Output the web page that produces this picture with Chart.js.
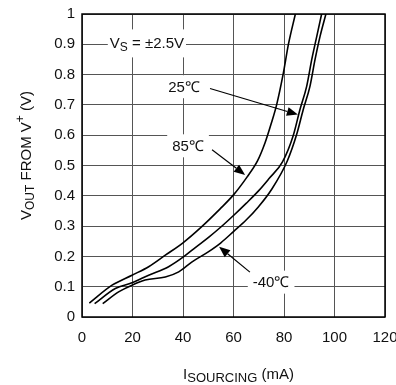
<!DOCTYPE html>
<html lang="en">
<head>
<meta charset="UTF-8">
<title>VOUT from V+ vs ISOURCING</title>
<script src="https://cdn.jsdelivr.net/npm/chart.js"></script>
<style>
  body { margin: 0; background: #fff; }
  #wrap { width: 396px; height: 385px; }
</style>
</head>
<body>
<div id="wrap"><canvas id="chart" width="396" height="385"></canvas></div>
<script>
  // curves: current in mA, voltage in V
  const iHot = [2.9, 11.9, 19.8, 26.4, 33, 40, 47, 54.7, 60, 65.2, 69.5, 72.5, 75, 77.1, 79.7, 81.8, 84.5];
  const vHot = [0.046, 0.105, 0.138, 0.166, 0.204, 0.245, 0.295, 0.357, 0.403, 0.46, 0.515, 0.575, 0.64, 0.701, 0.803, 0.902, 1.0];

  const iRoom = [5, 13.2, 19.8, 26.4, 34.3, 40.3, 45, 50, 55, 60, 65, 70, 74, 79.4, 83.7, 86.3, 89, 91, 93, 94.9];
  const vRoom = [0.044, 0.094, 0.113, 0.138, 0.166, 0.199, 0.23, 0.262, 0.297, 0.335, 0.375, 0.417, 0.456, 0.512, 0.6, 0.684, 0.762, 0.85, 0.927, 1.0];

  const iCold = [8.2, 14.5, 19.8, 25, 33, 38.3, 43.6, 50, 55, 60, 65, 70, 75, 81.3, 85, 87.6, 90.3, 92.3, 94.3, 96.6];
  const vCold = [0.044, 0.083, 0.105, 0.122, 0.132, 0.149, 0.182, 0.215, 0.245, 0.282, 0.32, 0.365, 0.42, 0.515, 0.602, 0.684, 0.762, 0.85, 0.927, 1.0];

  const xTicks = [0, 20, 40, 60, 80, 100, 120];
  const yTicks = [0, 0.1, 0.2, 0.3, 0.4, 0.5, 0.6, 0.7, 0.8, 0.9, 1];
  const yTickLabels = ['0', '0.1', '0.2', '0.3', '0.4', '0.5', '0.6', '0.7', '0.8', '0.9', '1'];

  const FONT = '"Liberation Sans", Arial, sans-serif';

  // labels placed in data units: [text, size, baseline shift]
  const notes = [
    { parts: [['V', 15, 0], ['S', 12, 3], [' = \u00b12.5V', 15, 0]], at: [25.7, 0.903], h: 28, pad: 2 },
    { parts: [['25\u2103', 15, 0]], at: [40.4, 0.76], h: 23, pad: 5 },
    { parts: [['85\u2103', 15, 0]], at: [42, 0.565], h: 23, pad: 5 },
    { parts: [['-40\u2103', 15, 0]], at: [74.9, 0.115], h: 23, pad: 5 }
  ];
  const arrows = [
    { from: [50.7, 0.754], to: [85.5, 0.668] },
    { from: [51.5, 0.552], to: [64.6, 0.469] },
    { from: [66.5, 0.148], to: [54.3, 0.232] }
  ];

  function toPts(xs, ys) {
    return xs.map((x, i) => ({ x: x, y: ys[i] }));
  }

  function partsWidth(ctx, parts) {
    let w = 0;
    parts.forEach(p => { ctx.font = p[1] + 'px ' + FONT; w += ctx.measureText(p[0]).width; });
    return w;
  }

  // draws mixed-size text starting at x along the baseline y
  function drawParts(ctx, parts, x, y) {
    parts.forEach(p => {
      ctx.font = p[1] + 'px ' + FONT;
      ctx.fillText(p[0], x, y + p[2]);
      x += ctx.measureText(p[0]).width;
    });
  }

  const extras = {
    id: 'extras',
    beforeDatasetsDraw(chart) {
      const ctx = chart.ctx, sx = chart.scales.x, sy = chart.scales.y;
      ctx.save();
      ctx.textBaseline = 'alphabetic';
      notes.forEach(n => {
        const cx = sx.getPixelForValue(n.at[0]);
        const cy = sy.getPixelForValue(n.at[1]);
        const w = partsWidth(ctx, n.parts);
        ctx.fillStyle = '#fff';
        ctx.fillRect(cx - w / 2 - n.pad, cy - n.h / 2, w + n.pad * 2, n.h);
        ctx.fillStyle = '#111';
        drawParts(ctx, n.parts, cx - w / 2, cy + 5);
      });
      ctx.restore();
    },
    afterDatasetsDraw(chart) {
      const ctx = chart.ctx, sx = chart.scales.x, sy = chart.scales.y;
      const a = chart.chartArea;
      ctx.save();
      ctx.strokeStyle = '#000';
      ctx.fillStyle = '#000';
      ctx.lineWidth = 1.2;
      arrows.forEach(r => {
        const x0 = sx.getPixelForValue(r.from[0]), y0 = sy.getPixelForValue(r.from[1]);
        const x1 = sx.getPixelForValue(r.to[0]), y1 = sy.getPixelForValue(r.to[1]);
        const ang = Math.atan2(y1 - y0, x1 - x0);
        const len = 11, half = 4.5;
        const bx = x1 - len * Math.cos(ang), by = y1 - len * Math.sin(ang);
        ctx.beginPath();
        ctx.moveTo(x0, y0);
        ctx.lineTo(bx, by);
        ctx.stroke();
        ctx.beginPath();
        ctx.moveTo(x1, y1);
        ctx.lineTo(bx + half * Math.sin(ang), by - half * Math.cos(ang));
        ctx.lineTo(bx - half * Math.sin(ang), by + half * Math.cos(ang));
        ctx.closePath();
        ctx.fill();
      });
      // frame
      ctx.lineWidth = 1.5;
      ctx.strokeRect(a.left, a.top, a.right - a.left, a.bottom - a.top);
      ctx.restore();
    },
    afterDraw(chart) {
      const ctx = chart.ctx, a = chart.chartArea;
      ctx.save();
      ctx.fillStyle = '#111';
      ctx.textBaseline = 'alphabetic';
      // x title
      const xt = [['I', 15, 0], ['SOURCING', 13, 3], [' (mA)', 15, 0]];
      const xw = partsWidth(ctx, xt);
      drawParts(ctx, xt, (a.left + a.right) / 2 + 5 - xw / 2, a.bottom + 62);
      // y title, rotated
      const yt = [['V', 15, 0], ['OUT', 12, 3], [' FROM V', 15, 0], ['+', 12, -7], [' (V)', 15, 0]];
      const yw = partsWidth(ctx, yt);
      ctx.translate(31, (a.top + a.bottom) / 2 - 10);
      ctx.rotate(-Math.PI / 2);
      drawParts(ctx, yt, -yw / 2, 0);
      ctx.restore();
    }
  };

  const line = (xs, ys) => ({
    data: toPts(xs, ys),
    showLine: true,
    borderColor: '#000',
    borderWidth: 1.6,
    pointRadius: 0,
    cubicInterpolationMode: 'monotone',
    fill: false
  });

  Chart.defaults.font.family = FONT;

  new Chart(document.getElementById('chart'), {
    type: 'scatter',
    data: {
      datasets: [line(iHot, vHot), line(iRoom, vRoom), line(iCold, vCold)]
    },
    options: {
      responsive: false,
      animation: false,
      layout: { padding: { top: 14, right: 11, left: 0, bottom: 0 } },
      plugins: { legend: { display: false }, tooltip: { enabled: false } },
      scales: {
        x: {
          type: 'linear', min: 0, max: 120,
          afterBuildTicks: s => { s.ticks = xTicks.map(v => ({ value: v })); },
          afterFit: s => { s.height = 68; s.paddingLeft = 0; s.paddingRight = 0; },
          ticks: { color: '#111', font: { size: 15 }, padding: 12, maxRotation: 0 },
          grid: { color: '#555', lineWidth: 1, drawTicks: false },
          border: { display: false }
        },
        y: {
          type: 'linear', min: 0, max: 1,
          afterBuildTicks: s => { s.ticks = yTicks.map(v => ({ value: v })); },
          afterFit: s => { s.width = 82; s.paddingTop = 0; s.paddingBottom = 0; },
          ticks: {
            color: '#111', font: { size: 15 }, padding: 7,
            callback: (v, i) => yTickLabels[i]
          },
          grid: { color: '#555', lineWidth: 1, drawTicks: false },
          border: { display: false }
        }
      }
    },
    plugins: [extras]
  });
</script>
</body>
</html>
